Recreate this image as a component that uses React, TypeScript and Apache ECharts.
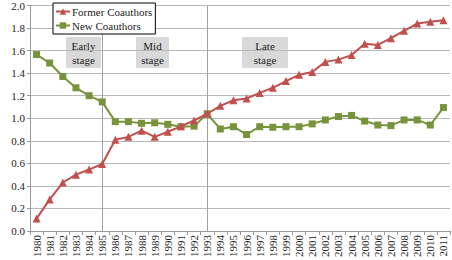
import React, { useEffect, useRef } from "react";
import * as echarts from "echarts";

const years = [
  "1980", "1981", "1982", "1983", "1984", "1985", "1986", "1987", "1988", "1989",
  "1990", "1991", "1992", "1993", "1994", "1995", "1996", "1997", "1998", "1999",
  "2000", "2001", "2002", "2003", "2004", "2005", "2006", "2007", "2008", "2009",
  "2010", "2011",
];

const formerCoauthors = [
  0.11, 0.28, 0.43, 0.5, 0.545, 0.594, 0.81, 0.835, 0.89, 0.835,
  0.88, 0.928, 0.98, 1.04, 1.11, 1.16, 1.175, 1.225, 1.27, 1.33,
  1.385, 1.41, 1.5, 1.52, 1.56, 1.66, 1.65, 1.71, 1.775, 1.84,
  1.855, 1.87,
];

const newCoauthors = [
  1.565, 1.49, 1.37, 1.27, 1.2, 1.145, 0.97, 0.97, 0.955, 0.96,
  0.946, 0.925, 0.93, 1.04, 0.905, 0.925, 0.856, 0.925, 0.92, 0.925,
  0.925, 0.95, 0.985, 1.015, 1.025, 0.975, 0.94, 0.935, 0.985, 0.985,
  0.94, 1.095,
];

const stageDividers = ["1985", "1993"];

const stages = [
  { label: "Early\nstage", x: 66, w: 35 },
  { label: "Mid\nstage", x: 136, w: 33 },
  { label: "Late\nstage", x: 242, w: 46 },
];

const FONT = "'Liberation Serif', 'Times New Roman', serif";
const RED = "#c0504d";
const GREEN = "#77933c";

export default function App() {
  const ref = useRef<HTMLDivElement>(null);

  useEffect(() => {
    if (!ref.current) return;
    const chart = echarts.init(ref.current, undefined, { renderer: "svg" });

    chart.setOption({
      animation: false,
      backgroundColor: "#ffffff",
      grid: { left: 30, right: 2, top: 4, bottom: 27, containLabel: false },
      legend: {
        orient: "vertical",
        left: 53,
        top: 3,
        padding: [3, 3, 3, 2],
        itemGap: 3,
        itemWidth: 14,
        itemHeight: 8,
        backgroundColor: "#ffffff",
        borderColor: "#000000",
        borderWidth: 1,
        textStyle: {
          fontFamily: FONT,
          fontSize: 11,
          color: "#222",
          padding: [0, 0, 0, -3],
        },
        data: ["Former Coauthors", "New Coauthors"],
      },
      xAxis: {
        type: "category",
        data: years,
        boundaryGap: true,
        axisLine: { show: true, lineStyle: { color: "#9a9a9a", width: 1 } },
        axisTick: { show: true, length: 4, lineStyle: { color: "#9a9a9a" } },
        axisLabel: {
          rotate: 90,
          interval: 0,
          margin: 4,
          fontFamily: FONT,
          fontSize: 11,
          color: "#222",
        },
        splitLine: { show: false },
      },
      yAxis: {
        type: "value",
        min: 0,
        max: 2,
        interval: 0.2,
        axisLine: { show: true, lineStyle: { color: "#9a9a9a", width: 1 } },
        axisTick: { show: true, length: 3, lineStyle: { color: "#9a9a9a" } },
        axisLabel: {
          margin: 5,
          fontFamily: FONT,
          fontSize: 11,
          color: "#222",
          formatter: (v: number) => v.toFixed(1),
        },
        splitLine: { show: true, lineStyle: { color: "#b8b8b8", width: 1 } },
      },
      graphic: stages.map((s) => ({
        type: "group",
        left: s.x,
        top: 37,
        children: [
          {
            type: "rect",
            shape: { x: 0, y: 0, width: s.w, height: 31 },
            style: { fill: "#d9d9d9" },
          },
          {
            type: "text",
            x: s.w / 2,
            y: 15.5,
            style: {
              text: s.label,
              fill: "#222",
              font: `11px ${FONT}`,
              align: "center",
              verticalAlign: "middle",
              lineHeight: 14,
            },
          },
        ],
      })),
      series: [
        {
          name: "Former Coauthors",
          type: "line",
          data: formerCoauthors,
          symbol: "triangle",
          symbolSize: 8,
          color: RED,
          lineStyle: { color: RED, width: 2 },
          itemStyle: { color: RED },
          z: 3,
        },
        {
          name: "New Coauthors",
          type: "line",
          data: newCoauthors,
          symbol: "rect",
          symbolSize: 7,
          color: GREEN,
          lineStyle: { color: GREEN, width: 2 },
          itemStyle: { color: GREEN },
          z: 2,
          markLine: {
            silent: true,
            symbol: "none",
            label: { show: false },
            lineStyle: { color: "#a0a0a0", width: 1, type: "solid" },
            data: stageDividers.map((y) => ({ xAxis: y })),
            z: 1,
          },
        },
      ],
    });

    return () => chart.dispose();
  }, []);

  return (
    <div
      ref={ref}
      style={{ position: "fixed", left: 0, top: 0, width: 452, height: 260 }}
    />
  );
}
